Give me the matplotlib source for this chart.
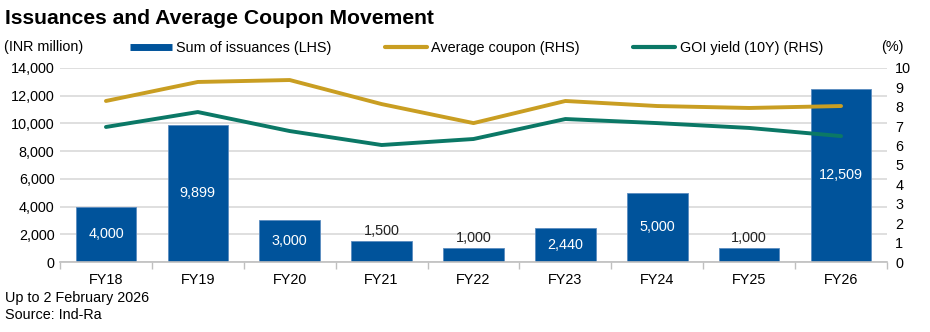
import matplotlib
matplotlib.use("Agg")
import matplotlib.pyplot as plt
from matplotlib.lines import Line2D
from matplotlib.ticker import FuncFormatter

plt.rcParams["font.family"] = ["Liberation Sans", "DejaVu Sans"]

years = ["FY18", "FY19", "FY20", "FY21", "FY22", "FY23", "FY24", "FY25", "FY26"]
issuances = [4000, 9899, 3000, 1500, 1000, 2440, 5000, 1000, 12509]
avg_coupon = [8.30, 9.28, 9.38, 8.14, 7.16, 8.30, 8.04, 7.94, 8.04]
goi_yield = [6.96, 7.73, 6.75, 6.03, 6.34, 7.37, 7.16, 6.91, 6.49]

BLUE = "#00539B"
GOLD = "#C99E22"
TEAL = "#0B7866"
GRID = "#D9D9D9"
FS = 10.4

fig = plt.figure(figsize=(9.3, 3.32), dpi=100)
ax = fig.add_axes([60 / 930, 70 / 332, 827 / 930, 194 / 332])
ax2 = ax.twinx()

x = list(range(len(years)))
ax.bar(x, issuances, width=0.66, color=BLUE, edgecolor="#5B8CC0", linewidth=0.6, zorder=2)

for xi, v in zip(x, issuances):
    label = f"{v:,}"
    if v < 2000:
        ax.text(xi, v + 250, label, ha="center", va="bottom", fontsize=FS, color="#222222")
    else:
        ax.text(xi, v / 2, label, ha="center", va="center", fontsize=FS, color="white")

ax.set_xlim(-0.5, len(years) - 0.5)
ax.set_ylim(0, 14000)
ax.set_yticks(range(0, 14001, 2000))
ax.yaxis.set_major_formatter(FuncFormatter(lambda v, p: f"{int(v):,}"))
ax.grid(axis="y", color=GRID, linewidth=1.2, zorder=0)
ax.set_axisbelow(True)

ax.set_xticks(x)
ax.set_xticklabels(years)
ax.set_xticks([i - 0.5 for i in range(len(years) + 1)], minor=True)
ax.tick_params(axis="x", which="major", length=0, pad=8, labelsize=FS)
ax.tick_params(axis="x", which="minor", length=5, color="#BFBFBF", width=1)
ax.tick_params(axis="y", length=0, pad=4, labelsize=FS)

for s in ["top", "left", "right"]:
    ax.spines[s].set_visible(False)
    ax2.spines[s].set_visible(False)
ax.spines["bottom"].set_color("#BFBFBF")
ax.spines["bottom"].set_linewidth(1.2)
ax2.spines["bottom"].set_visible(False)

ax2.plot(x, avg_coupon, color=GOLD, linewidth=2.8, solid_capstyle="round", zorder=3)
ax2.plot(x, goi_yield, color=TEAL, linewidth=2.8, solid_capstyle="round", zorder=3)
ax2.set_ylim(0, 10)
ax2.set_yticks(range(0, 11))
ax2.tick_params(axis="y", length=0, pad=6, labelsize=FS)

handles = [
    Line2D([], [], color=BLUE, linewidth=5, solid_capstyle="butt"),
    Line2D([], [], color=GOLD, linewidth=3, solid_capstyle="round"),
    Line2D([], [], color=TEAL, linewidth=3, solid_capstyle="round"),
]
labels = ["Sum of issuances (LHS)", "Average coupon (RHS)", "GOI yield (10Y) (RHS)"]
fig.legend(handles, labels, loc="center left", bbox_to_anchor=(130 / 930, 1 - 48 / 332),
           ncol=3, frameon=False, fontsize=FS, handlelength=2.9, handletextpad=0.3,
           columnspacing=3.7, borderaxespad=0, borderpad=0)

fig.text(5 / 930, 1 - 18 / 332, "Issuances and Average Coupon Movement", fontsize=15.2,
         fontweight="bold", ha="left", va="center")
fig.text(4 / 930, 1 - 47 / 332, "(INR million)", fontsize=FS, ha="left", va="center")
fig.text(892 / 930, 1 - 47 / 332, "(%)", fontsize=FS, ha="center", va="center")
fig.text(5 / 930, 1 - 298 / 332, "Up to 2 February 2026", fontsize=FS, ha="left", va="center")
fig.text(5 / 930, 1 - 315 / 332, "Source: Ind-Ra", fontsize=FS, ha="left", va="center")

fig.savefig("out.png", dpi=100)
